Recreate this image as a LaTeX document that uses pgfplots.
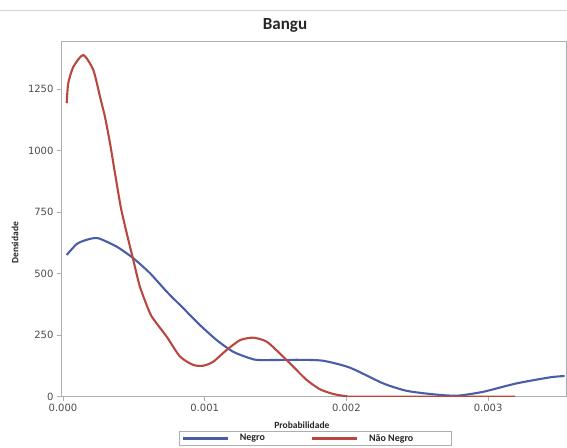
\documentclass[border=0pt]{standalone}
\usepackage{pgfplots}
\pgfplotsset{compat=1.18}
\usepackage{fontspec}
\setmainfont{Liberation Sans}
\newfontfamily\tickfont{DejaVu Sans}
\newfontfamily\labfont{Carlito}
\definecolor{blu}{HTML}{4A5EA8}
\definecolor{rd}{HTML}{B8483F}
\definecolor{axgray}{HTML}{A9AFB4}
\begin{document}
\begin{tikzpicture}[x=1pt,y=1pt]
\path[use as bounding box] (0,0) rectangle (567,447);
\draw[gray!35, line width=0.8pt] (0,437) -- (567,437);
\node[font=\labfont\bfseries\fontsize{17}{18}\selectfont, text=black!85] at (285,422) {Bangu};
\begin{axis}[
  at={(61pt,50.3pt)}, anchor=south west,
  scale only axis, width=505pt, height=355.2pt,
  xmin=-0.0000141, xmax=0.00355, ymin=0, ymax=1444,
  axis line style={axgray, line width=0.9pt},
  tick style={axgray, line width=0.8pt},
  tick align=outside, major tick length=4pt,
  xtick pos=bottom, ytick pos=left,
  xtick={0,0.001,0.002,0.003}, xticklabels={0.000,0.001,0.002,0.003},
  ytick={0,250,500,750,1000,1250},
  yticklabel style={/pgf/number format/1000 sep={}},
  scaled ticks=false,
  /pgf/number format/assume math mode=true,
  tick label style={font=\tickfont\fontsize{10}{11}\selectfont, text=black!70},
  xlabel={Probabilidade}, ylabel={Densidade},
  xlabel style={font=\labfont\bfseries\fontsize{9.5}{10}\selectfont, text=black!85, at={(axis description cs:0.477,-0.0797)}, anchor=center},
  ylabel style={font=\labfont\bfseries\fontsize{9.5}{10}\selectfont, text=black!85, at={(axis description cs:-0.091,0.433)}, anchor=center},
  legend columns=2,
  legend cell align=left,
  legend style={at={(axis description cs:0.504,-0.0966)}, anchor=north, draw=axgray, line width=0.6pt,
    font=\labfont\bfseries\fontsize{10}{11}\selectfont, text=black!85,
    nodes={inner xsep=2pt},
    /tikz/every even column/.append style={column sep=44pt}, inner ysep=1pt, inner xsep=2pt},
  legend image code/.code={\draw[#1, line width=2.2pt] (0pt,0pt) -- (45pt,0pt); \path[draw=none] (0pt,0pt) -- (55pt,0pt);},
  clip=true,
]
\addplot[blu, line width=2.1pt, smooth, tension=0.4] coordinates {
(0.000026,576)(0.0001,622)(0.00018,640)(0.00025,644)(0.000379,610)(0.000496,563)(0.000614,502)(0.000732,427)(0.00085,359)(0.000967,291)(0.001085,230)(0.0012,183)(0.00132,156)(0.00139,149)(0.00167,150)(0.001837,146)(0.002025,118)(0.00226,54)(0.002425,24)(0.00261,10)(0.00278,4)(0.002966,20)(0.0032,54)(0.00344,79)(0.00354,84)
};
\addlegendentry{Negro}
\addplot[rd, line width=2.1pt, smooth, tension=0.4] coordinates {
(0.000026,1193)(0.000037,1274)(0.000073,1341)(0.000143,1389)(0.000214,1328)(0.000261,1220)(0.000296,1138)(0.000332,1030)(0.000367,908)(0.000408,770)(0.00045,664)(0.000496,556)(0.000543,447)(0.000614,339)(0.000661,298)(0.000732,244)(0.000826,163)(0.00092,129)(0.00099,126)(0.00106,142)(0.001155,190)(0.00125,230)(0.001343,240)(0.001437,224)(0.00153,176)(0.001625,122)(0.00172,68)(0.001814,30)(0.001908,11)(0.002,2)(0.0021,0)(0.00319,0)
};
\addlegendentry{Não Negro\hspace*{34pt}}
\end{axis}
\end{tikzpicture}
\end{document}
